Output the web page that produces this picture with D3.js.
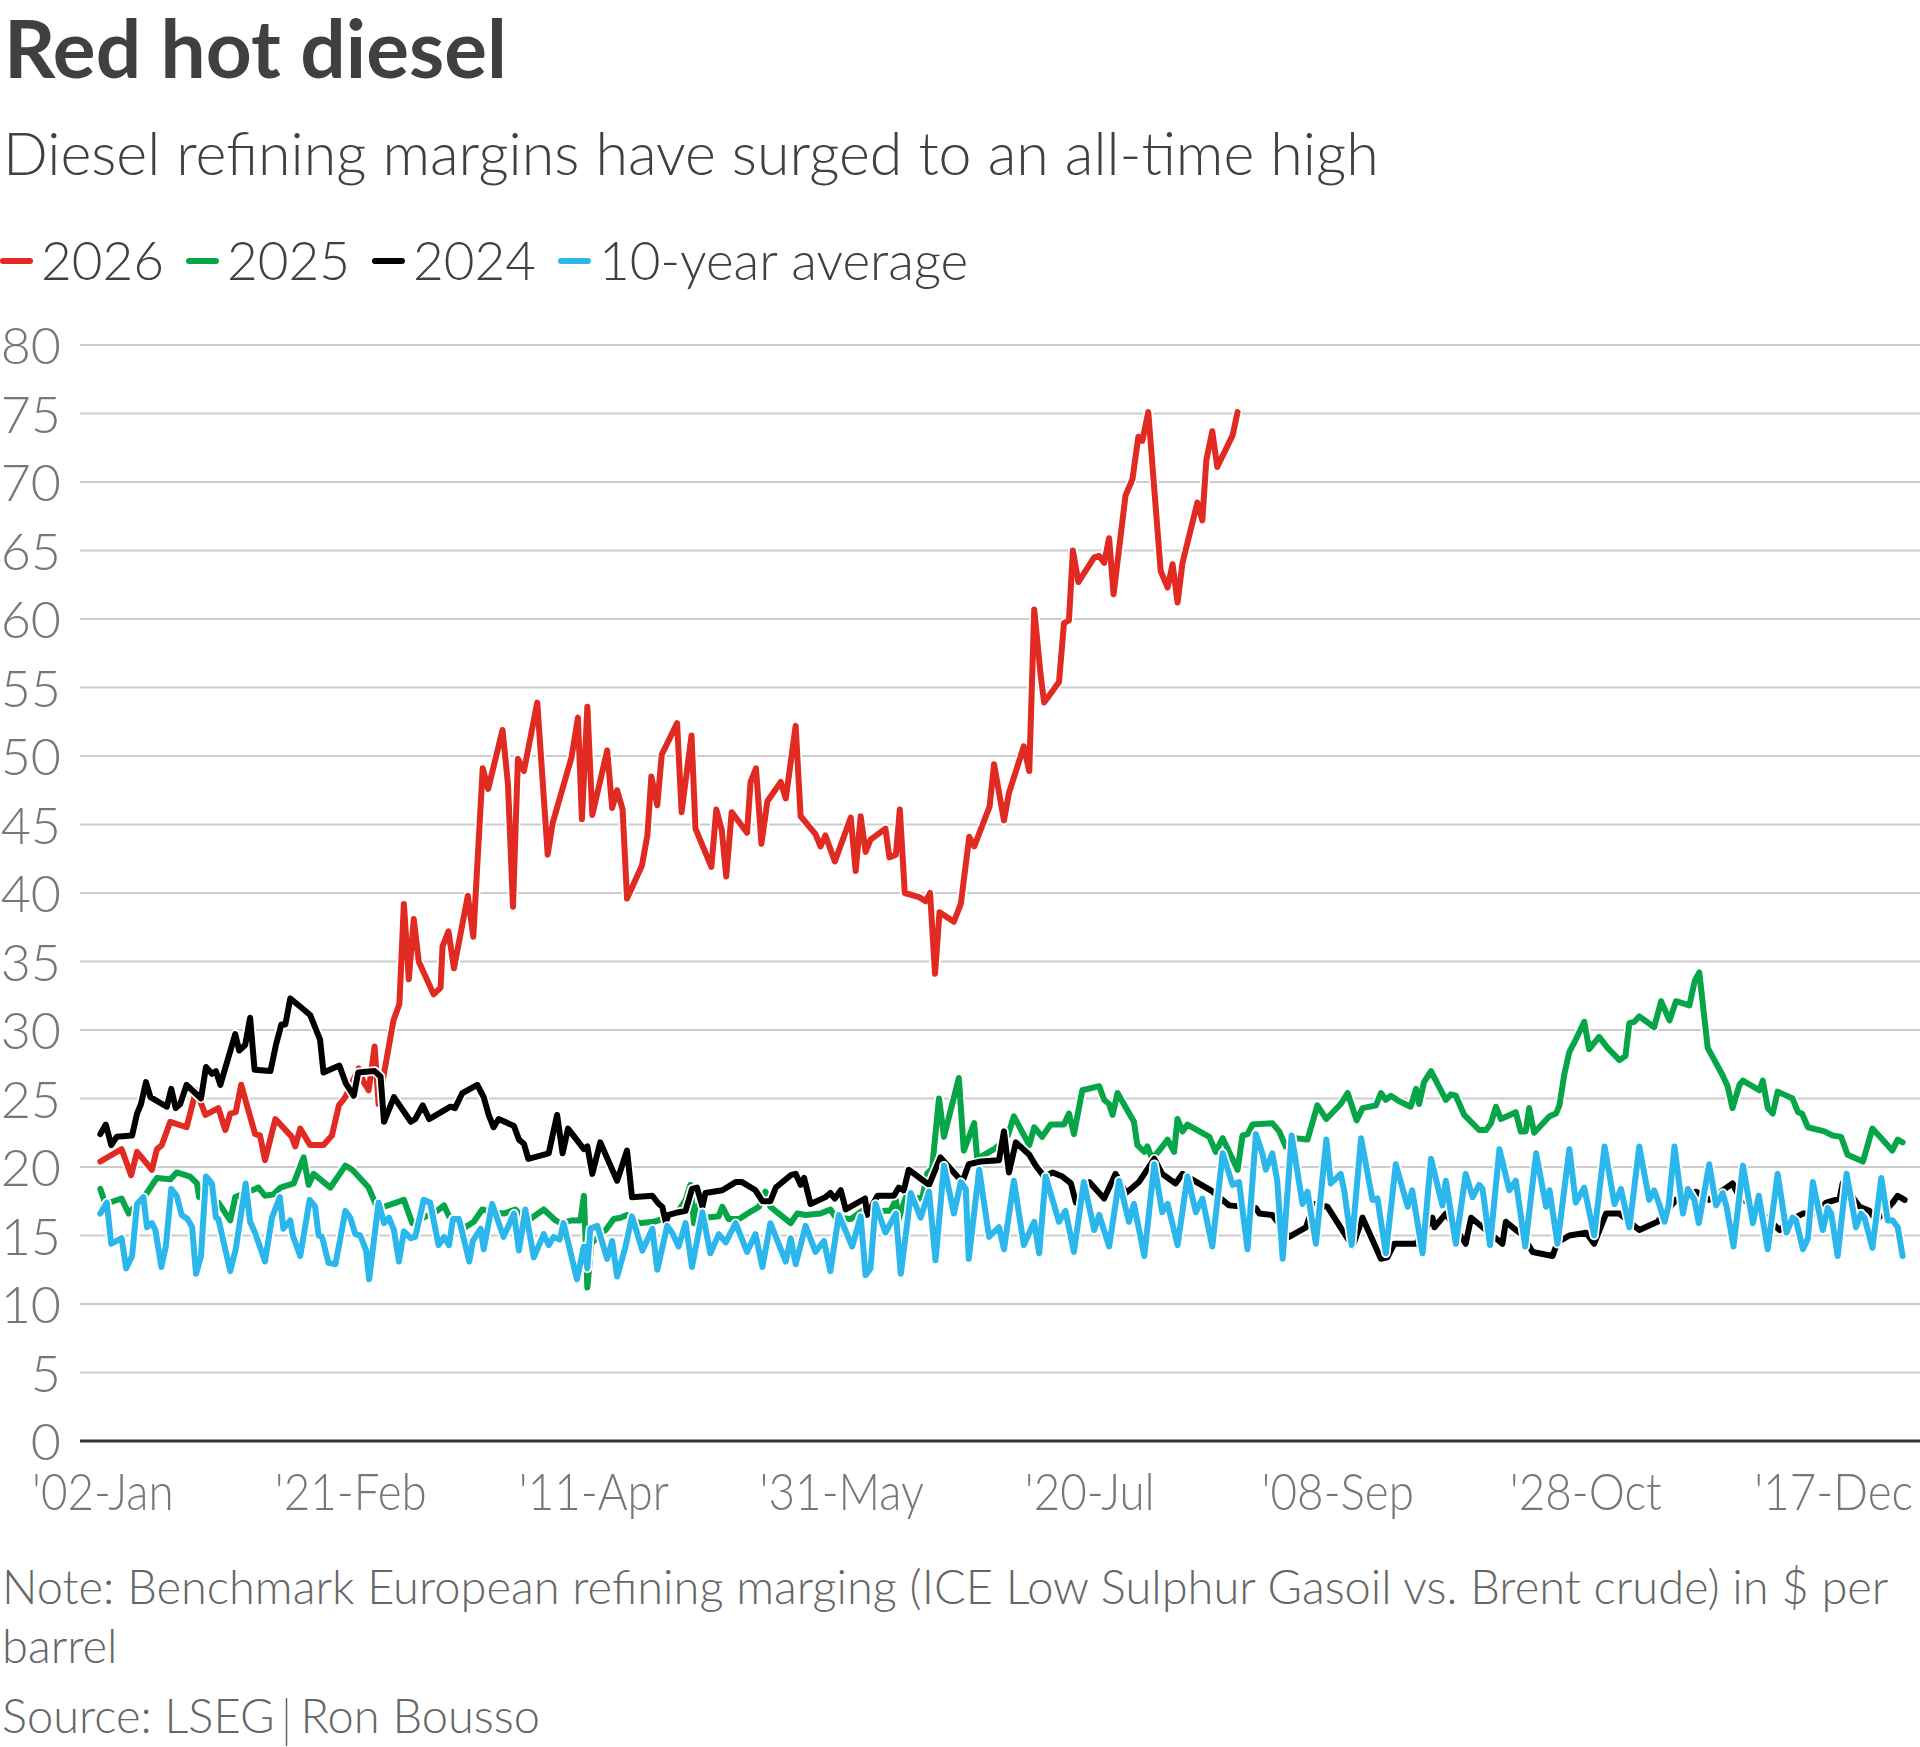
<!DOCTYPE html>
<html>
<head>
<meta charset="utf-8">
<script src="https://cdn.jsdelivr.net/npm/d3@7"></script>
<style>
  body { margin: 0; background: #fff; }
  svg { display: block; }
  text { font-family: Lato, "Open Sans", sans-serif; }
</style>
</head>
<body>
<svg id="chart" width="1920" height="1747"></svg>
<script>
"use strict";

// Day offsets from 1 Jan, values in $ per barrel
const diesel2026 = [
  [1.1,20.4],[5.4,21.3],[7.3,19.4],[8.5,21.1],[11.5,19.8],[12.5,21.3],[13.5,21.6],[15.2,23.3],
  [18.5,22.9],[20.4,25.6],[22.3,23.8],[24.9,24.3],[26.3,22.7],[27.3,23.9],[28.4,24.0],[29.5,26.0],
  [32.3,22.4],[33.3,22.3],[34.3,20.5],[36.4,23.5],[39.7,22.2],[40.4,21.5],[41.4,22.8],[43.4,21.6],
  [46.1,21.6],[47.8,22.3],[49.2,24.5],[50.5,25.1],[53.2,27.2],[54.2,26.2],[55.2,25.6],[56.4,28.8],
  [57.2,24.6],[60.2,30.7],[61.4,31.9],[62.3,39.2],[63.3,33.7],[64.3,38.1],[65.3,35.0],[68.3,32.6],
  [69.7,33.1],[70.1,36.1],[71.3,37.2],[72.4,34.5],[75.2,39.8],[76.3,36.8],[78.2,49.1],[79.3,47.6],
  [82.2,51.9],[83.3,47.9],[84.3,39.0],[85.3,49.8],[86.5,48.9],[89.2,53.9],[91.3,42.8],[92.3,45.1],
  [96.1,49.9],[97.4,52.8],[98.2,45.4],[99.3,53.6],[100.3,45.7],[103.3,50.4],[104.3,46.2],[105.3,47.5],
  [106.4,46.1],[107.3,39.6],[110.3,42.0],[111.4,44.2],[112.2,48.5],[113.4,46.4],[114.3,50.1],[117.4,52.4],
  [118.3,45.9],[120.3,51.5],[121.1,44.7],[124.3,41.9],[125.3,46.1],[126.4,44.6],[127.3,41.2],[128.4,45.9],
  [131.5,44.4],[132.2,48.1],[133.3,49.1],[134.4,43.6],[135.6,46.7],[138.3,48.1],[139.3,46.9],[140.1,49.0],
  [141.3,52.2],[142.3,45.6],[145.3,44.3],[146.3,43.4],[147.3,44.2],[149.2,42.3],[152.4,45.5],[153.4,41.6],
  [154.4,45.6],[155.4,43.0],[156.4,43.9],[159.4,44.7],[160.2,42.6],[161.5,42.8],[162.3,46.1],[163.3,40.0],
  [166.2,39.7],[167.5,39.4],[168.4,40.0],[169.4,34.1],[170.3,38.6],[173.2,37.9],[174.6,39.2],[176.3,44.1],
  [177.3,43.4],[180.4,46.3],[181.3,49.4],[183.3,45.3],[184.3,47.3],[187.3,50.7],[188.4,48.9],[189.4,60.7],
  [190.7,55.9],[191.4,53.9],[194.4,55.4],[195.4,59.7],[196.4,59.9],[197.2,65.0],[198.3,62.7],[201.5,64.5],
  [202.5,64.6],[203.5,64.1],[204.5,65.9],[205.4,61.8],[207.8,69.0],[209.2,70.2],[210.4,73.3],[211.2,73.0],
  [212.4,75.1],[214.9,63.5],[216.3,62.3],[217.3,64.0],[218.3,61.2],[219.3,64.1],[222.3,68.5],[223.3,67.2],
  [224.1,71.6],[225.3,73.7],[226.3,71.1],[229.4,73.4],[230.4,75.1]
];

const diesel2025 = [
  [1.1,18.4],[2.1,17.3],[5.4,17.7],[6.8,16.6],[10.1,17.9],[12.5,19.2],[15.2,19.1],[16.5,19.6],
  [19.2,19.3],[20.6,18.8],[21.0,17.8],[24.9,17.4],[27.3,16.1],[28.3,17.8],[31.7,18.3],[33.0,18.5],
  [34.3,17.9],[36.0,18.0],[37.4,18.5],[40.1,18.8],[42.1,20.7],[43.1,18.7],[44.1,19.5],[47.5,18.5],
  [50.5,20.1],[51.9,19.8],[55.2,18.5],[56.6,17.3],[58.3,17.1],[62.3,17.6],[64.0,15.9],[69.0,16.8],
  [70.4,17.2],[71.4,16.4],[74.7,15.6],[76.4,16.0],[78.1,16.9],[80.1,16.7],[82.4,16.6],[84.8,16.9],
  [85.8,16.5],[87.8,16.2],[90.5,16.9],[92.9,16.1],[93.9,15.9],[96.2,16.1],[97.9,16.1],[98.6,17.9],
  [99.3,11.2],[100.1,14.4],[101.6,15.0],[103.0,15.4],[104.6,16.2],[106.0,16.3],[107.3,16.5],[109.7,15.9],
  [112.7,16.0],[114.4,16.2],[117.7,16.8],[119.1,17.6],[120.1,18.7],[120.8,15.9],[121.8,17.4],[123.1,16.3],
  [125.8,16.4],[126.5,17.1],[127.8,16.2],[129.9,16.2],[132.5,16.8],[133.9,17.1],[135.2,18.2],[136.2,17.1],
  [137.9,16.6],[140.3,15.9],[141.6,16.6],[143.3,16.5],[146.3,16.6],[148.3,16.9],[149.4,16.3],[152.4,16.2],
  [154.7,16.8],[156.8,16.3],[159.1,16.8],[160.4,16.8],[161.5,17.6],[162.1,16.2],[163.5,17.8],[166.8,17.7],
  [167.8,19.5],[168.8,19.9],[170.2,25.0],[171.2,22.2],[174.2,26.5],[175.2,21.2],[177.3,23.2],[177.9,20.6],
  [181.3,21.3],[182.3,21.6],[184.0,22.2],[185.3,23.7],[188.4,21.6],[189.4,22.9],[191.0,22.2],[192.7,23.1],
  [195.4,23.1],[196.4,23.9],[197.4,22.4],[199.1,25.6],[202.5,25.9],[203.5,24.9],[204.5,24.6],[205.2,23.8],
  [206.2,25.4],[209.5,23.3],[210.2,21.6],[211.6,21.1],[212.2,21.5],[213.2,20.6],[214.6,21.2],[216.3,22.0],
  [217.6,21.1],[218.3,23.5],[219.3,22.6],[220.3,23.1],[224.7,22.2],[226.0,21.1],[227.4,22.1],[230.4,19.8],
  [231.4,22.3],[232.4,22.4],[233.4,23.1],[237.4,23.2],[238.8,22.6],[240.1,21.5],[242.1,22.1],[244.5,22.0],
  [246.5,24.5],[248.3,23.5],[251.2,24.6],[252.6,25.4],[254.4,23.4],[255.6,24.3],[258.3,24.5],[259.3,25.4],
  [260.3,24.9],[261.3,25.2],[263.0,24.8],[265.3,24.4],[266.4,25.7],[267.0,24.6],[268.0,26.2],[269.4,27.0],
  [272.4,24.9],[273.4,25.3],[274.4,25.2],[276.1,23.8],[279.1,22.7],[280.5,22.7],[281.5,23.2],[282.5,24.4],
  [283.5,23.5],[286.5,24.0],[287.5,22.6],[288.5,22.6],[289.2,24.3],[290.2,22.5],[293.3,23.7],[294.6,23.9],
  [295.3,24.5],[296.3,26.8],[297.3,28.4],[298.6,29.3],[300.3,30.6],[301.3,28.6],[303.3,29.5],[305.0,28.7],
  [307.4,27.8],[308.6,28.1],[309.4,30.5],[310.4,30.6],[311.4,31.0],[314.4,30.2],[315.8,32.1],[317.5,30.7],
  [318.8,32.1],[321.5,31.8],[322.6,33.6],[323.5,34.2],[325.2,28.7],[328.2,26.7],[329.2,25.9],[330.2,24.3],
  [331.6,26.0],[332.3,26.3],[335.6,25.6],[336.3,26.3],[337.3,24.3],[338.3,23.9],[339.3,25.5],[342.3,25.0],
  [343.4,24.0],[344.2,23.9],[345.4,22.9],[348.7,22.6],[350.4,22.3],[352.1,22.2],[353.4,20.9],[356.5,20.4],
  [358.4,22.8],[360.2,22.1],[362.4,21.2],[363.5,22.0],[364.5,21.8]
];

const diesel2024 = [
  [1.1,22.4],[2.2,23.1],[3.3,21.6],[4.4,22.2],[7.5,22.3],[8.5,23.9],[9.3,24.6],[10.3,26.2],
  [11.2,25.1],[14.5,24.4],[15.4,25.7],[16.3,24.3],[17.2,24.6],[18.5,26.0],[21.4,25.0],[22.4,27.3],
  [23.6,26.8],[24.4,27.0],[25.3,26.0],[28.3,29.7],[29.1,28.5],[30.3,28.9],[31.3,30.9],[32.2,27.1],
  [35.4,27.0],[36.5,28.9],[37.6,30.4],[38.4,30.4],[39.4,32.3],[42.1,31.5],[43.4,31.1],[45.4,29.3],
  [46.1,26.9],[49.3,27.4],[50.6,26.1],[52.2,25.2],[53.1,26.9],[56.4,27.0],[57.6,26.6],[58.3,23.3],
  [60.3,25.1],[63.7,23.3],[64.6,23.5],[66.1,24.5],[67.4,23.5],[71.7,24.4],[72.6,24.3],[74.1,25.4],
  [77.1,26.0],[78.4,25.1],[79.4,23.8],[80.4,22.9],[81.4,23.5],[84.5,23.0],[85.5,22.0],[86.5,21.7],
  [87.4,20.6],[91.5,21.0],[93.2,23.8],[94.3,21.0],[95.4,22.8],[98.6,21.3],[99.3,21.5],[100.3,19.5],
  [101.9,21.8],[105.3,19.0],[107.3,21.2],[108.3,17.8],[112.4,17.9],[113.7,17.3],[114.4,17.1],[115.1,16.0],
  [115.7,16.5],[117.7,16.7],[119.1,16.8],[120.4,18.4],[121.4,18.5],[122.5,17.1],[123.1,18.1],[126.5,18.3],
  [129.2,18.9],[130.5,18.9],[133.2,18.3],[134.6,17.5],[136.2,17.5],[137.3,18.5],[140.3,19.4],[141.3,19.5],
  [142.3,18.7],[143.0,19.2],[144.3,17.3],[147.3,17.8],[148.3,18.1],[149.2,17.7],[150.4,18.3],[151.4,16.9],
  [155.3,17.7],[155.7,16.5],[157.8,17.9],[161.1,17.9],[162.1,18.5],[163.1,18.3],[164.1,19.8],[168.2,18.7],
  [170.5,20.7],[174.9,18.9],[176.2,20.2],[178.6,20.4],[182.3,20.5],[183.3,22.6],[184.3,19.6],[185.7,21.8],
  [188.4,20.9],[189.7,20.1],[191.4,19.3],[193.1,19.6],[195.1,19.3],[196.8,18.8],[197.8,17.4],[200.5,18.9],
  [203.5,17.7],[205.8,19.5],[207.9,18.1],[210.5,18.9],[213.6,20.6],[215.2,19.5],[217.9,18.8],[219.3,19.5],
  [225.0,18.3],[228.7,17.2],[234.1,17.0],[234.8,16.6],[237.4,16.5],[240.8,14.9],[244.2,15.6],[245.8,17.3],
  [248.5,17.1],[253.6,14.2],[255.6,16.3],[259.3,13.3],[260.6,13.4],[262.0,14.4],[266.4,14.4],[269.7,16.3],
  [270.1,15.6],[272.4,16.6],[276.4,14.4],[277.5,16.3],[279.8,15.6],[283.8,14.4],[284.5,16.0],[287.9,15.0],
  [289.9,13.8],[293.9,13.5],[294.9,14.5],[297.3,15.0],[300.7,15.2],[302.3,14.4],[304.7,16.6],[307.4,16.6],
  [311.4,15.4],[315.1,16.0],[318.8,17.6],[322.8,18.2],[325.5,17.6],[330.2,18.8],[331.6,17.8],[334.6,17.1],
  [339.7,15.4],[341.7,16.1],[344.4,16.6],[347.1,16.6],[349.1,17.4],[351.8,17.7],[352.4,18.8],[355.8,17.1],
  [357.8,16.8],[359.2,16.1],[362.5,17.4],[363.5,17.9],[364.9,17.6]
];

const dieselAvg10y = [
  [1.1,16.6],[2.4,17.4],[3.3,14.4],[5.4,14.8],[6.3,12.6],[7.5,13.5],[8.5,17.3],[9.8,17.8],
  [10.5,15.6],[11.5,15.9],[12.2,15.4],[13.4,12.7],[14.3,14.2],[15.4,18.4],[16.5,17.9],[17.5,16.5],
  [18.7,16.2],[19.6,15.6],[20.4,12.2],[21.4,13.5],[22.4,19.3],[23.6,18.8],[24.4,16.3],[24.9,16.2],
  [27.3,12.4],[28.4,14.0],[30.4,18.8],[31.3,16.0],[32.3,15.2],[34.3,13.1],[35.7,16.3],[37.3,17.8],
  [38.0,15.5],[39.4,16.1],[39.9,15.0],[41.4,13.5],[43.3,17.6],[44.4,17.1],[45.1,15.0],[45.8,14.9],
  [47.1,13.0],[48.5,12.9],[49.5,14.8],[50.5,16.8],[51.5,16.3],[52.5,15.1],[53.5,15.0],[54.7,13.9],
  [55.3,11.8],[57.2,17.4],[58.3,15.9],[59.3,16.3],[60.3,15.4],[61.3,13.1],[62.3,15.3],[63.7,14.8],
  [64.6,14.9],[66.3,17.6],[67.6,17.4],[69.3,14.3],[70.4,14.9],[71.4,14.3],[72.2,16.2],[73.4,16.2],
  [75.5,13.1],[76.2,14.6],[77.8,15.5],[78.4,14.0],[80.1,17.3],[82.4,14.9],[84.5,16.6],[85.5,13.9],
  [86.8,16.9],[88.5,13.4],[90.5,15.1],[91.5,14.3],[92.5,14.9],[93.7,14.7],[94.5,15.9],[97.2,11.8],
  [98.6,14.2],[99.3,12.6],[99.9,15.5],[101.3,15.7],[103.3,13.3],[104.3,14.6],[105.3,12.0],[107.0,14.2],
  [108.3,16.4],[110.4,13.9],[112.4,15.5],[113.4,12.5],[115.4,15.7],[116.4,15.2],[117.7,14.2],[119.1,15.9],
  [120.4,12.7],[122.5,16.7],[124.1,13.7],[125.8,15.1],[127.2,14.5],[129.2,15.9],[131.5,13.8],[133.2,15.1],
  [134.6,12.7],[136.2,15.9],[139.3,13.1],[140.3,14.8],[141.3,12.9],[143.3,15.7],[145.3,13.8],[147.0,14.6],
  [148.3,12.4],[150.0,16.5],[152.7,14.2],[154.4,16.4],[155.4,12.1],[156.4,12.6],[157.4,17.3],[159.4,15.2],
  [161.5,16.6],[162.5,12.2],[163.8,15.9],[164.5,18.1],[166.5,16.3],[168.2,18.2],[169.5,13.2],[171.2,20.1],
  [173.2,16.6],[174.6,18.9],[175.6,18.4],[176.2,13.3],[178.3,19.8],[180.3,14.9],[182.3,15.6],[183.3,14.0],
  [185.3,19.0],[187.3,14.3],[189.4,16.0],[190.4,13.7],[191.7,19.3],[194.4,16.0],[195.7,16.8],[197.4,13.8],
  [199.4,18.9],[201.5,15.4],[202.5,16.5],[204.5,14.2],[206.5,19.0],[208.5,16.0],[209.5,17.3],[211.6,13.5],
  [213.6,20.2],[215.2,16.7],[216.3,17.3],[218.3,14.3],[220.3,19.3],[222.0,16.7],[223.3,17.7],[225.3,14.2],
  [227.4,21.0],[229.4,18.7],[230.7,18.9],[232.4,14.0],[234.1,22.4],[235.4,21.0],[236.1,19.8],[237.4,21.0],
  [238.4,19.0],[239.5,13.3],[241.3,22.3],[243.5,17.3],[244.5,18.2],[246.2,14.4],[248.3,22.0],[249.2,18.8],
  [251.2,19.5],[251.9,18.3],[253.4,14.3],[255.3,22.1],[257.6,17.6],[258.6,17.7],[260.3,13.7],[262.3,20.2],
  [264.7,17.1],[265.6,18.3],[267.7,13.7],[269.4,20.6],[271.7,17.2],[272.4,19.0],[274.4,14.4],[276.4,19.5],
  [277.8,17.8],[279.1,18.7],[279.8,18.4],[281.3,14.3],[283.2,21.3],[285.2,18.3],[286.5,19.0],[288.4,14.2],
  [290.6,21.0],[292.6,17.1],[293.3,18.3],[294.9,14.4],[297.3,21.3],[298.6,17.4],[300.3,18.5],[302.3,15.0],
  [304.4,21.5],[306.4,17.3],[307.7,18.4],[309.4,15.6],[311.4,21.5],[313.4,17.6],[314.4,18.3],[315.4,17.3],
  [316.5,16.0],[317.3,17.2],[318.5,21.5],[320.2,16.6],[321.2,18.4],[322.5,17.6],[323.4,15.9],[325.5,20.2],
  [326.9,17.2],[328.2,18.1],[329.0,17.1],[330.4,14.2],[332.3,20.1],[334.3,15.9],[335.5,17.9],[337.3,14.0],
  [339.3,19.5],[341.1,15.2],[342.3,16.3],[343.0,16.1],[344.4,14.0],[345.4,14.8],[346.4,18.9],[348.4,15.4],
  [349.4,17.0],[350.1,16.6],[351.4,13.5],[353.2,19.5],[355.1,15.6],[356.1,16.6],[356.8,16.3],[358.4,14.1],
  [360.2,19.2],[361.5,16.1],[362.5,16.1],[363.5,15.6],[364.5,13.5]
];

const seriesNames = ["2026", "2025", "2024", "10-year average"];
const seriesData = [diesel2026, diesel2025, diesel2024, dieselAvg10y];
const seriesColors = ["#e02a22", "#06a548", "#000000", "#2bb6ec"];

const yTicks = d3.range(0, 81, 5);
const xTickDays = [1, 51, 100, 150, 200, 250, 300, 350];
const xTickLabels = ["'02-Jan", "'21-Feb", "'11-Apr", "'31-May", "'20-Jul", "'08-Sep", "'28-Oct", "'17-Dec"];

const titleText = "Red hot diesel";
const subtitleText = "Diesel refining margins have surged to an all-time high";
const noteLines = ["Note: Benchmark European refining marging (ICE Low Sulphur Gasoil vs. Brent crude) in $ per", "barrel"];
const sourceParts = ["Source: LSEG", "Ron Bousso"];

const svg = d3.select("#chart");

const x = d3.scaleLinear().domain([-3, 368]).range([80, 1920]);
const y = d3.scaleLinear().domain([0, 80]).range([1441, 345]);

// Scale a text element's font-size so it spans the given width
function fitWidth(sel, target) {
    const w = sel.node().getComputedTextLength();
    const fs = parseFloat(sel.attr("font-size"));
    sel.attr("font-size", fs * target / w);
    return sel;
}

// Header
fitWidth(svg.append("text")
    .attr("x", 4).attr("y", 78)
    .attr("font-size", 72).attr("font-weight", 700)
    .attr("fill", "#404040")
    .text(titleText), 503);

fitWidth(svg.append("text")
    .attr("x", 3).attr("y", 175)
    .attr("font-size", 55).attr("font-weight", 300)
    .attr("fill", "#404040")
    .text(subtitleText), 1376);

// Legend
var lx = 3;
seriesNames.forEach(function(name, i) {
    svg.append("line")
        .attr("x1", lx).attr("x2", lx + 27)
        .attr("y1", 261).attr("y2", 261)
        .attr("stroke", seriesColors[i])
        .attr("stroke-width", 6)
        .attr("stroke-linecap", "round");
    var t = svg.append("text")
        .attr("x", lx + 38).attr("y", 280)
        .attr("font-size", 53).attr("font-weight", 300)
        .attr("fill", "#404040")
        .text(name);
    lx += 38 + t.node().getComputedTextLength() + 25;
});

// Gridlines and y labels
svg.append("g").selectAll("line")
    .data(yTicks.filter(function(d) { return d > 0; }))
    .join("line")
    .attr("x1", 80).attr("x2", 1920)
    .attr("y1", function(d) { return y(d); })
    .attr("y2", function(d) { return y(d); })
    .attr("stroke", "#cccccc")
    .attr("stroke-width", 2);

svg.append("g").selectAll("text")
    .data(yTicks)
    .join("text")
    .attr("x", 61)
    .attr("y", function(d) { return y(d) + 19; })
    .attr("text-anchor", "end")
    .attr("font-size", 52).attr("font-weight", 300)
    .attr("fill", "#777777")
    .text(function(d) { return d; });

// x labels, squeezed a little to the narrower face of the original;
// the last one is pinned inside the right edge
svg.append("g").selectAll("text")
    .data(xTickDays)
    .join("text")
    .attr("x", function(d) { return x(d) + 3; })
    .attr("y", 1510)
    .attr("text-anchor", "middle")
    .attr("font-size", 52).attr("font-weight", 300)
    .attr("fill", "#777777")
    .text(function(d, i) { return xTickLabels[i]; })
    .each(function(d) {
        var w = this.getComputedTextLength() * 0.88;
        var t = d3.select(this)
            .attr("textLength", w)
            .attr("lengthAdjust", "spacingAndGlyphs");
        if (x(d) + 3 + w / 2 > 1914) {
            t.attr("text-anchor", "end").attr("x", 1914);
        }
    });

// Lines, each with a thin white halo
const line = d3.line()
    .x(function(d) { return x(d[0]); })
    .y(function(d) { return y(d[1]); });

const lines = svg.append("g")
    .attr("fill", "none")
    .attr("stroke-linejoin", "round")
    .attr("stroke-linecap", "round");

seriesData.forEach(function(data, i) {
    lines.append("path")
        .attr("d", line(data))
        .attr("stroke", "#ffffff")
        .attr("stroke-width", 9.5);
    lines.append("path")
        .attr("d", line(data))
        .attr("stroke", seriesColors[i])
        .attr("stroke-width", 6);
});

// Baseline
svg.append("line")
    .attr("x1", 80).attr("x2", 1920)
    .attr("y1", y(0)).attr("y2", y(0))
    .attr("stroke", "#333333")
    .attr("stroke-width", 3);

// Footer
var noteSize = null;
noteLines.forEach(function(s, i) {
    var t = svg.append("text")
        .attr("x", 2).attr("y", 1604 + i * 59)
        .attr("font-size", noteSize || 39).attr("font-weight", 300)
        .attr("fill", "#666666")
        .text(s);
    if (i === 0) {
        fitWidth(t, 1887);
        noteSize = parseFloat(t.attr("font-size"));
    }
});

var src1 = svg.append("text")
    .attr("x", 2).attr("y", 1733)
    .attr("font-size", noteSize).attr("font-weight", 300)
    .attr("fill", "#666666")
    .text(sourceParts[0]);
var barX = 2 + src1.node().getComputedTextLength() + 12;
svg.append("line")
    .attr("x1", barX).attr("x2", barX)
    .attr("y1", 1698).attr("y2", 1746)
    .attr("stroke", "#666666")
    .attr("stroke-width", 1.5);
svg.append("text")
    .attr("x", barX + 14).attr("y", 1733)
    .attr("font-size", noteSize).attr("font-weight", 300)
    .attr("fill", "#666666")
    .text(sourceParts[1]);
</script>
</body>
</html>
